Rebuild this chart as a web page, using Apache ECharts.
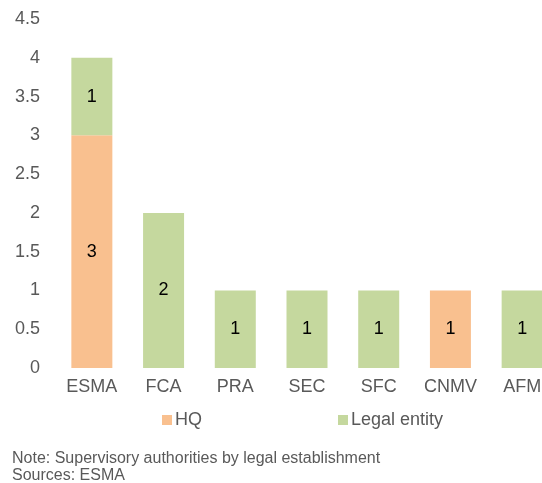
<!DOCTYPE html>
<html>
<head>
<meta charset="utf-8">
<script src="https://cdn.jsdelivr.net/npm/echarts@6/dist/echarts.min.js"></script>
<style>
  html, body { margin: 0; padding: 0; background: #fff; overflow: hidden; }
  /* plot runs past the right edge in the original, so the canvas is wider than the window */
  #chart { width: 558px; height: 483px; }
</style>
</head>
<body>
<div id="chart"></div>
<script>
const categories = ['ESMA', 'FCA', 'PRA', 'SEC', 'SFC', 'CNMV', 'AFM']
const hqValues = [3, 0, 0, 0, 0, 1, 0]
const legalValues = [1, 2, 1, 1, 1, 0, 1]
const noteLines = ['Note: Supervisory authorities by legal establishment', 'Sources: ESMA']

const colors = ['#F9C08F', '#C5D89E']
const textColor = '#595959'
const font = 'Liberation Sans, Arial, sans-serif'

const myChart = echarts.init(document.getElementById('chart'))

// hide zero labels
const barLabel = {
  show: true,
  position: 'inside',
  color: '#000',
  fontSize: 18,
  fontFamily: font,
  formatter: (p) => (p.value ? p.value : '')
}

const legendText = { color: textColor, fontSize: 18, fontFamily: font, padding: [0, 0, 0, -2] }

const option = {
  color: colors,
  animation: false,
  textStyle: { fontFamily: font },
  grid: { left: 56, top: 19, right: 0, bottom: 115, containLabel: false },
  legend: [
    {
      left: 157, top: 406, itemWidth: 10, itemHeight: 10, icon: 'rect',
      textStyle: legendText, data: ['HQ']
    },
    {
      left: 333, top: 406, itemWidth: 10, itemHeight: 10, icon: 'rect',
      textStyle: legendText, data: ['Legal entity']
    }
  ],
  graphic: [
    {
      type: 'text', left: 12, top: 450,
      style: { text: noteLines.join('\n'), fill: textColor, fontSize: 16, fontFamily: font, lineHeight: 17 }
    }
  ],
  xAxis: {
    type: 'category',
    data: categories,
    axisLine: { show: false },
    axisTick: { show: false },
    axisLabel: { color: textColor, fontSize: 18, fontFamily: font, margin: 10 }
  },
  yAxis: {
    type: 'value',
    min: 0,
    max: 4.5,
    interval: 0.5,
    splitLine: { show: false },
    axisLine: { show: false },
    axisTick: { show: false },
    axisLabel: { color: textColor, fontSize: 18, fontFamily: font, margin: 16 }
  },
  series: [
    { name: 'HQ', type: 'bar', stack: 'total', barWidth: 41, data: hqValues, label: barLabel },
    { name: 'Legal entity', type: 'bar', stack: 'total', barWidth: 41, data: legalValues, label: barLabel }
  ]
}

option && myChart.setOption(option)
</script>
</body>
</html>
